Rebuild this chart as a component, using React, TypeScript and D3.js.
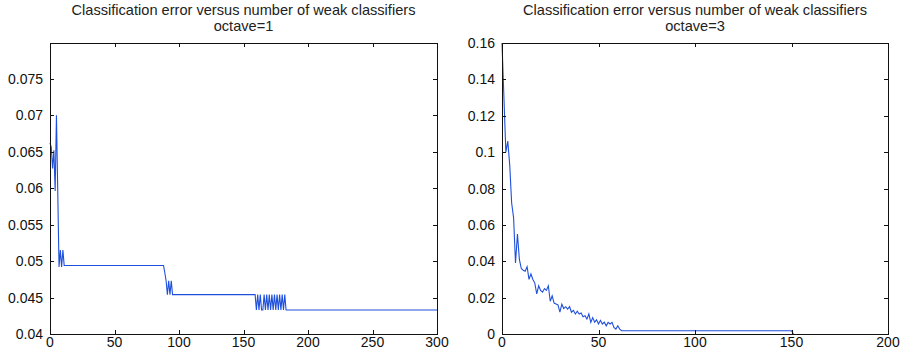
import React, { useEffect, useRef } from "react";
import * as d3 from "d3";

const titleLine = "Classification error versus number of weak classifiers";
const subTitles = ["octave=1", "octave=3"];

// octave=1 : error curve, break points (x = number of weak classifiers)
const leftX = [0, 1, 2, 3, 4, 5, 6, 7, 8, 9, 10, 11, 88, 89, 90, 91, 92, 93, 94, 95, 159,
  160, 161, 162, 163, 164, 165, 166, 167, 168, 169, 170, 171, 172, 173, 174, 175, 176, 177,
  178, 179, 180, 181, 182, 183, 300];
const leftY = [0.0662, 0.0656, 0.0627, 0.0652, 0.0596, 0.0700, 0.0596, 0.0492, 0.0515, 0.0492,
  0.0515, 0.0494, 0.0494, 0.0484, 0.0473, 0.0454, 0.0473, 0.0454, 0.0473, 0.0454, 0.0454,
  0.0433, 0.0454, 0.0433, 0.0454, 0.0433, 0.0433, 0.0454, 0.0433, 0.0454, 0.0433, 0.0454,
  0.0433, 0.0454, 0.0433, 0.0454, 0.0433, 0.0454, 0.0433, 0.0454, 0.0433, 0.0454, 0.0433,
  0.0454, 0.0433, 0.0433];
const leftXTicks = [0, 50, 100, 150, 200, 250, 300];
const leftYTicks = [0.04, 0.045, 0.05, 0.055, 0.06, 0.065, 0.07, 0.075];

// octave=3
const rightX = [0, 1, 2, 3, 4, 5, 6, 7, 8, 9, 10, 11, 12, 13, 14, 15, 16, 17, 18, 19, 20,
  21, 22, 23, 24, 25, 26, 27, 28, 29, 30, 31, 32, 33, 34, 35, 36, 37, 38, 39, 40, 41, 42,
  43, 44, 45, 46, 47, 48, 49, 50, 51, 52, 53, 54, 55, 56, 57, 58, 59, 60, 61, 62, 150, 151];
const rightY = [0.160, 0.130, 0.100, 0.106, 0.093, 0.072, 0.064, 0.039, 0.055, 0.041, 0.036,
  0.035, 0.0345, 0.037, 0.030, 0.033, 0.030, 0.028, 0.022, 0.0265, 0.024, 0.023, 0.025, 0.024,
  0.0265, 0.018, 0.021, 0.017, 0.0165, 0.016, 0.012, 0.0164, 0.014, 0.015, 0.0137, 0.015,
  0.012, 0.013, 0.011, 0.0125, 0.011, 0.0115, 0.0095, 0.010, 0.0082, 0.011, 0.0064, 0.009,
  0.0065, 0.0078, 0.0055, 0.0075, 0.0055, 0.0065, 0.0045, 0.0064, 0.0055, 0.0064, 0.0036,
  0.0027, 0.0045, 0.0027, 0.0018, 0.0018, 0];
const rightXTicks = [0, 50, 100, 150, 200];
const rightYTicks = [0, 0.02, 0.04, 0.06, 0.08, 0.1, 0.12, 0.14, 0.16];

const font = "Arial, 'Liberation Sans', Helvetica, sans-serif";
const fmt = d3.format(".3~f");

function drawPanel(svg: any, p: any) {
  var x = d3.scaleLinear().domain(p.xDomain).range([p.left, p.right]);
  var y = d3.scaleLinear().domain(p.yDomain).range([p.bottom, p.top]);
  var g = svg.append("g");

  // title, two lines
  var cx = (p.left + p.right) / 2;
  g.append("text").attr("x", cx).attr("y", 14.5).attr("text-anchor", "middle")
    .style("font", "14.6px " + font).attr("fill", "#222").text(titleLine);
  g.append("text").attr("x", cx).attr("y", 31.3).attr("text-anchor", "middle")
    .style("font", "14.6px " + font).attr("fill", "#222").text(p.sub);

  // the curve
  var pts = p.xs.map((v: number, i: number) => [v, p.ys[i]]);
  var line = d3.line().x((d: any) => x(d[0])).y((d: any) => y(d[1]));
  g.append("path").attr("d", line(pts as any)).attr("fill", "none")
    .attr("stroke", "#1f50dc").attr("stroke-width", 1.1);

  // box
  g.append("rect").attr("x", p.left + 0.5).attr("y", p.top + 0.5)
    .attr("width", p.right - p.left).attr("height", p.bottom - p.top)
    .attr("fill", "none").attr("stroke", "#111").attr("shape-rendering", "crispEdges");

  // ticks, inside, on all sides
  p.xTicks.forEach((t: number) => {
    var px = Math.round(x(t)) + 0.5;
    g.append("line").attr("x1", px).attr("x2", px).attr("y1", p.bottom).attr("y2", p.bottom - 4)
      .attr("stroke", "#111").attr("shape-rendering", "crispEdges");
    g.append("line").attr("x1", px).attr("x2", px).attr("y1", p.top).attr("y2", p.top + 4)
      .attr("stroke", "#111").attr("shape-rendering", "crispEdges");
    g.append("text").attr("x", x(t)).attr("y", p.bottom + 13).attr("text-anchor", "middle")
      .style("font", "14px " + font).attr("fill", "#111").text(fmt(t));
  });
  p.yTicks.forEach((t: number) => {
    var py = Math.round(y(t)) + 0.5;
    g.append("line").attr("x1", p.left).attr("x2", p.left + 4).attr("y1", py).attr("y2", py)
      .attr("stroke", "#111").attr("shape-rendering", "crispEdges");
    g.append("line").attr("x1", p.right).attr("x2", p.right - 4).attr("y1", py).attr("y2", py)
      .attr("stroke", "#111").attr("shape-rendering", "crispEdges");
    g.append("text").attr("x", p.left - 7).attr("y", y(t)).attr("dy", "0.36em")
      .attr("text-anchor", "end")
      .style("font", "14px " + font).attr("fill", "#111").text(fmt(t));
  });
}

export default function App() {
  const ref = useRef<SVGSVGElement>(null);

  useEffect(() => {
    var svg = d3.select(ref.current);
    svg.selectAll("*").remove();
    drawPanel(svg, {
      left: 50, right: 437, top: 43, bottom: 334,
      xDomain: [0, 300], yDomain: [0.04, 0.0799],
      xTicks: leftXTicks, yTicks: leftYTicks,
      xs: leftX, ys: leftY, sub: subTitles[0],
    });
    drawPanel(svg, {
      left: 502, right: 888, top: 43, bottom: 334,
      xDomain: [0, 200], yDomain: [0, 0.16],
      xTicks: rightXTicks, yTicks: rightYTicks,
      xs: rightX, ys: rightY, sub: subTitles[1],
    });
  }, []);

  return (
    <svg ref={ref} width={906} height={362}
      style={{ position: "absolute", left: 0, top: 0, background: "#fff" }} />
  );
}
